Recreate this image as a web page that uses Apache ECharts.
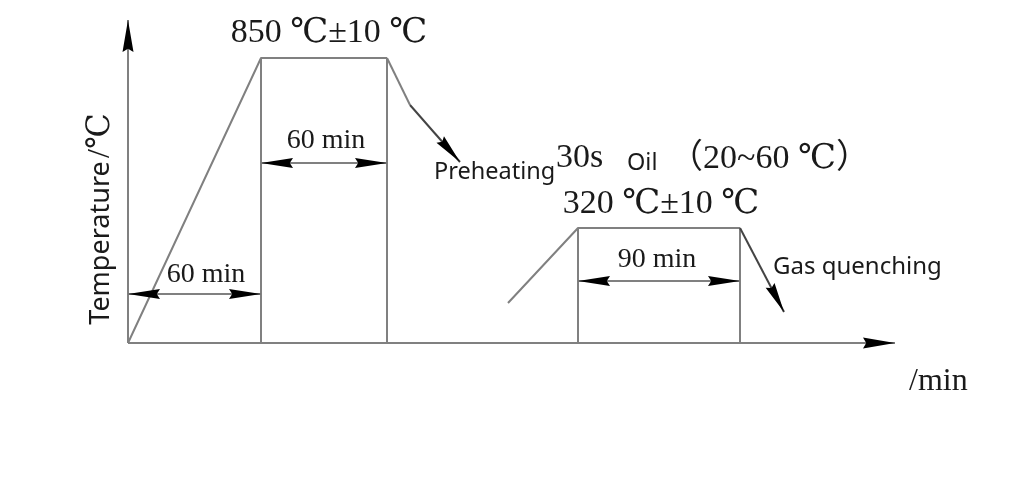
<!DOCTYPE html>
<html><head><meta charset="utf-8">
<script src="https://cdn.jsdelivr.net/npm/echarts@6/dist/echarts.min.js"></script>
<style>html,body{margin:0;padding:0;background:#fff}#c{width:1024px;height:500px}</style>
</head><body><div id="c"></div>
<script>
// Schematic heat-treatment profile (schematic units: x = time axis, y = temperature axis)
const austenitizing = [[0, 0], [133, 285], [259, 285]];
const preheatDrop = [[259, 285], [282, 238]];
const tempering = [[380, 40], [450, 115], [612, 115]];
const holdMarkers = [
  [[133, 0], [133, 285]],
  [[259, 0], [259, 285]],
  [[450, 0], [450, 115]],
  [[612, 0], [612, 115]]
];
// pointer arrows: [x1, y1, x2(tip), y2(tip)]
const pointerArrows = [[282, 238, 332, 181], [612, 115, 656, 31]];
// dimension (double-headed) arrows
const dimensionArrows = [[0, 49, 133, 49], [133, 180, 259, 180], [450, 62, 612, 62]];
// axes
const axisArrows = [[0, 0, 0, 323], [0, 0, 767, 0]];

const labels = {
  peak: '850 ℃±10 ℃',
  hold1: '60 min',
  ramp: '60 min',
  hold2: '90 min',
  preheat: 'Preheating',
  quench: '30s',
  oil: 'Oil',
  oilTemp: '（20~60 ℃）',
  temper: '320 ℃±10 ℃',
  gas: 'Gas quenching',
  xName: '/min',
  yName: 'Temperature',
  yUnit: '/℃'
};

const GRAY = '#808080';
const SERIF = "'Liberation Serif','DejaVu Serif','Noto Sans CJK SC',serif";
const SANS = "'Noto Sans','Open Sans',sans-serif";

function arrowRender(len, half, both, shaftColor) {
  return function (params, api) {
    const a = api.coord([api.value(0), api.value(1)]);
    const b = api.coord([api.value(2), api.value(3)]);
    const dx = b[0] - a[0], dy = b[1] - a[1];
    const d = Math.sqrt(dx * dx + dy * dy);
    const ux = dx / d, uy = dy / d, px = -uy, py = ux;
    const head = (t, sx, sy) => ({
      type: 'polygon',
      shape: { points: [t, [t[0] - sx * len + px * half, t[1] - sy * len + py * half], [t[0] - sx * len * 0.9, t[1] - sy * len * 0.9], [t[0] - sx * len - px * half, t[1] - sy * len - py * half]] },
      style: { fill: '#000' }
    });
    const children = [
      { type: 'line', shape: { x1: a[0], y1: a[1], x2: b[0], y2: b[1] }, style: { stroke: shaftColor, lineWidth: 2 } },
      head(b, ux, uy)
    ];
    if (both) children.push(head(a, -ux, -uy));
    return { type: 'group', children };
  };
}

const lineStyle = { color: GRAY, width: 2 };
const series = [
  { type: 'line', data: austenitizing, symbol: 'none', lineStyle, silent: true, z: 2 },
  { type: 'line', data: preheatDrop, symbol: 'none', lineStyle, silent: true, z: 2 },
  { type: 'line', data: tempering, symbol: 'none', lineStyle, silent: true, z: 2 }
];
holdMarkers.forEach(m => series.push({ type: 'line', data: m, symbol: 'none', lineStyle, silent: true, z: 2 }));
series.push({ type: 'custom', data: axisArrows, renderItem: arrowRender(32, 5.5, false, GRAY), encode: { x: [0, 2], y: [1, 3] }, clip: false, silent: true, z: 3 });
series.push({ type: 'custom', data: dimensionArrows, renderItem: arrowRender(32, 5, true, GRAY), encode: { x: [0, 2], y: [1, 3] }, clip: false, silent: true, z: 3 });
series.push({ type: 'custom', data: pointerArrows, renderItem: arrowRender(30, 5, false, '#444'), encode: { x: [0, 2], y: [1, 3] }, clip: false, silent: true, z: 3 });

function txt(text, x, y, font, align) {
  return { type: 'text', x, y, style: { text, font, fill: '#1a1a1a', textAlign: align || 'left', textVerticalAlign: 'bottom' } };
}

const option = {
  animation: false,
  backgroundColor: '#fff',
  grid: { left: 128, top: 20, width: 767, height: 323 },
  xAxis: { type: 'value', min: 0, max: 767, show: false },
  yAxis: { type: 'value', min: 0, max: 323, show: false },
  series,
  graphic: [
    txt(labels.peak, 329, 50, '34px ' + SERIF, 'center'),
    txt(labels.hold1, 326, 155, '28px ' + SERIF, 'center'),
    txt(labels.ramp, 206, 289, '28px ' + SERIF, 'center'),
    txt(labels.hold2, 657, 274, '28px ' + SERIF, 'center'),
    txt(labels.preheat, 434, 184, '23.5px ' + SANS, 'left'),
    txt(labels.quench, 556, 175, '34px ' + SERIF, 'left'),
    txt(labels.oil, 627, 175, '23.5px ' + SANS, 'left'),
    txt(labels.oilTemp, 669, 176, '34px ' + SERIF, 'left'),
    txt(labels.temper, 661, 221, '34px ' + SERIF, 'center'),
    txt(labels.gas, 773, 279, '24px ' + SANS, 'left'),
    txt(labels.xName, 909, 398, '32px ' + SERIF, 'left'),
    {
      type: 'text', x: 101, y: 219, rotation: Math.PI / 2,
      style: {
        text: '{a|' + labels.yName + '} {b|' + labels.yUnit + '}',
        textAlign: 'center', textVerticalAlign: 'middle',
        rich: {
          a: { font: '27px ' + SANS, fill: '#1a1a1a' },
          b: { font: '32px ' + SERIF, fill: '#1a1a1a' }
        }
      }
    }
  ]
};
const chart = echarts.init(document.getElementById('c'), null, { renderer: 'canvas' });
chart.setOption(option);
</script>
</body></html>
